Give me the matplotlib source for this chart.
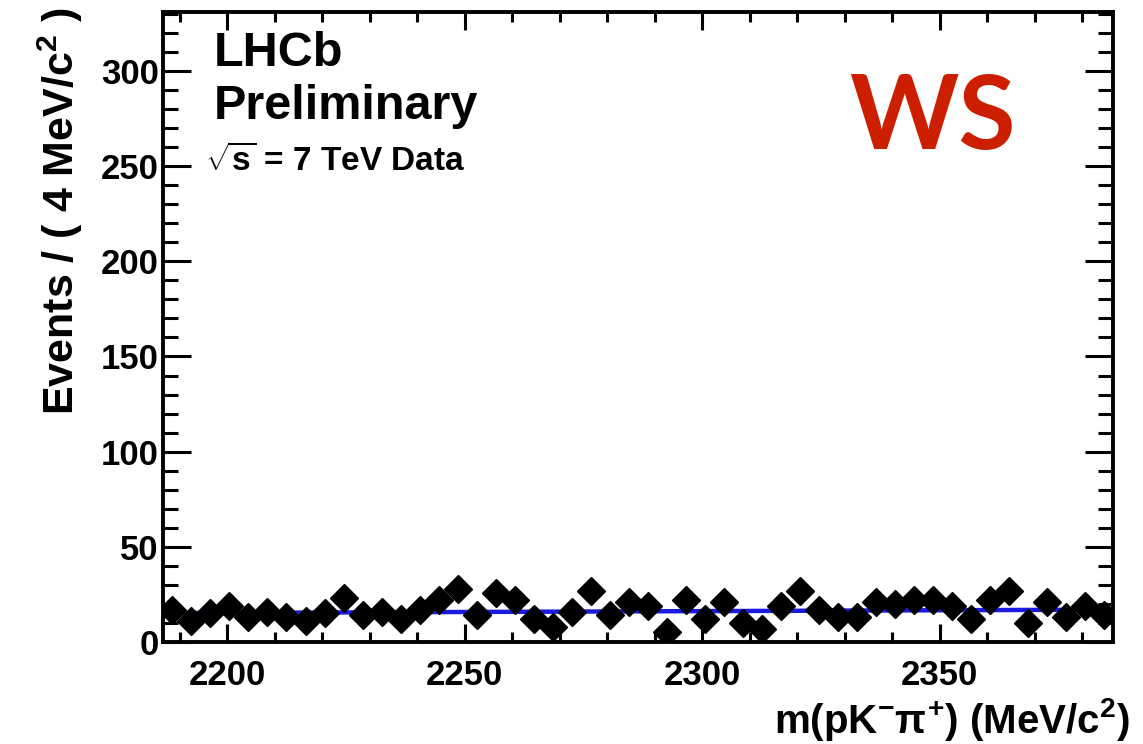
import matplotlib
matplotlib.use("Agg")
import matplotlib.pyplot as plt
import numpy as np
from matplotlib.ticker import MultipleLocator

# 4 MeV bins, 2186.5 - 2386.5
lo_edge = 2186.5
bin_w = 4.0
counts = [17, 11, 15, 19, 13, 16, 13, 11, 15, 23,
          14, 16, 12, 17, 22, 28, 14, 26, 22, 12,
          8, 16, 27, 14, 21, 19, 5, 22, 12, 21,
          10, 7, 19, 27, 17, 13, 13, 21, 20, 22,
          22, 19, 12, 22, 27, 10, 21, 13, 19, 14]
# background fit (linear) at the two ends of the range
bkg_ends = [15.2, 17.0]
xlim = [2186.5, 2386.5]
ylim = [0, 331]

counts = np.array(counts)
centers = lo_edge + bin_w * (np.arange(len(counts)) + 0.5)
errs = np.sqrt(counts)

plt.rcParams['font.family'] = ['Liberation Sans', 'DejaVu Sans']
plt.rcParams['mathtext.fontset'] = 'custom'
plt.rcParams['mathtext.rm'] = 'Liberation Sans:bold'
plt.rcParams['mathtext.it'] = 'Liberation Sans:bold'
plt.rcParams['mathtext.bf'] = 'Liberation Sans:bold'

fig = plt.figure(figsize=(11.43, 7.44), dpi=100)
ax = fig.add_axes([0.1426, 0.1371, 0.9738 - 0.1426, 0.9839 - 0.1371])

ax.plot(xlim, bkg_ends, color='#1a1ae0', lw=3.2, zorder=2)
ax.errorbar(centers, counts, yerr=errs, xerr=bin_w / 2, fmt='D', color='black',
            ms=14, elinewidth=1.5, capsize=0, zorder=3)

ax.set_xlim(xlim)
ax.set_ylim(ylim)
ax.xaxis.set_major_locator(MultipleLocator(50))
ax.xaxis.set_minor_locator(MultipleLocator(10))
ax.yaxis.set_major_locator(MultipleLocator(50))
ax.yaxis.set_minor_locator(MultipleLocator(10))
ax.tick_params(axis='both', which='both', direction='in', top=True, right=True, width=2.2)
ax.tick_params(axis='x', which='major', length=13, pad=12)
ax.tick_params(axis='x', which='minor', length=7)
ax.tick_params(axis='y', which='major', length=20, pad=3)
ax.tick_params(axis='y', which='minor', length=11)
for lab in ax.get_xticklabels() + ax.get_yticklabels():
    lab.set_fontsize(25)
    lab.set_fontweight('bold')
for sp in ax.spines.values():
    sp.set_linewidth(2.8)

ax.set_xlabel(r"m(pK$^{-}\pi^{+}$) (MeV/c$^{2}$)", fontsize=29, fontweight='bold')
ax.set_ylabel(r"Events / ( 4 MeV/c$^{2}$ )", fontsize=31, fontweight='bold')
ax.xaxis.set_label_coords(1.018, -0.085, transform=ax.transAxes)
ax.xaxis.label.set_horizontalalignment('right')
ax.yaxis.set_label_coords(-0.082, 1.008, transform=ax.transAxes)
ax.yaxis.label.set_horizontalalignment('right')

ax.text(0.053, 0.97, "LHCb", transform=ax.transAxes, fontsize=35, fontweight='bold',
        va='top', ha='left')
ax.text(0.053, 0.885, "Preliminary", transform=ax.transAxes, fontsize=35, fontweight='bold',
        va='top', ha='left')
ax.text(0.044, 0.79, r"$\sqrt{\rm s}$ = 7 TeV Data", transform=ax.transAxes, fontsize=24,
        fontweight='bold', va='top', ha='left')
ax.text(0.81, 0.83, "WS", transform=ax.transAxes, fontsize=75, fontweight='bold',
        color='#cc1f00', ha='center', va='center', family=['Lato', 'DejaVu Sans'])

fig.savefig("out.png", dpi=100)
